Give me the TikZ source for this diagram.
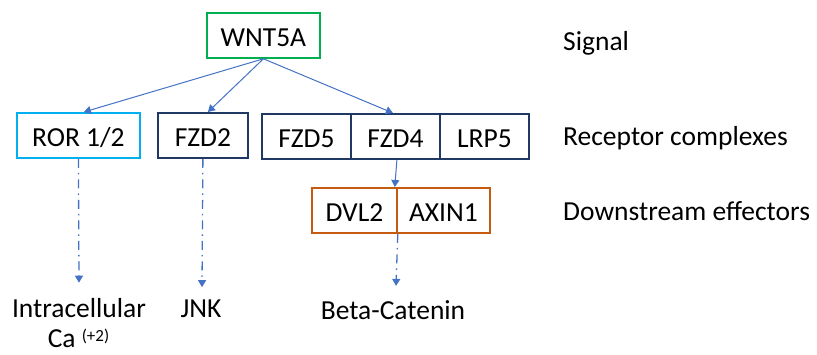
\documentclass[tikz,border=0pt]{standalone}
\usepackage{fontspec}
\setmainfont{Carlito}
\usetikzlibrary{arrows.meta,calc}
\definecolor{sigGreen}{RGB}{0,176,80}
\definecolor{rorBlue}{RGB}{0,176,240}
\definecolor{navy}{RGB}{31,56,100}
\definecolor{effOrange}{RGB}{197,90,17}
\definecolor{linkBlue}{RGB}{68,114,196}
\tikzset{
  txt/.style={font=\fontsize{27.5}{32}\selectfont, inner sep=0pt},
  cell/.style={txt, draw, line width=1.8pt, minimum height=45pt,
    text height=22pt, text depth=0pt, anchor=north west},
  link/.style={draw=linkBlue, line width=1pt,
    -{Triangle[width=8pt,length=7pt]}},
  pathway/.style={link, line width=1.3pt,
    dash pattern=on 9pt off 5pt on 1.5pt off 5pt},
}
\begin{document}
\begin{tikzpicture}[x=1pt,y=-1pt]
  \useasboundingbox (0,0) rectangle (817,354);

  % signal
  \node[cell, draw=sigGreen, minimum width=113pt] (wnt) at (206,12) {WNT5A};

  % receptor complexes
  \node[cell, draw=rorBlue, minimum width=123pt] (ror) at (16,112) {ROR 1/2};
  \node[cell, draw=navy, minimum width=90pt] (fzd2) at (157,112) {FZD2};
  \node[cell, draw=navy, minimum width=89pt] (fzd5) at (261,113) {FZD5};
  \node[cell, draw=navy, minimum width=89pt] (fzd4) at (350,113) {FZD4};
  \node[cell, draw=navy, minimum width=89pt] (lrp5) at (439,113) {LRP5};

  % downstream effectors
  \node[cell, draw=effOrange, minimum width=85pt] (dvl2) at (311,187) {DVL2};
  \node[cell, draw=effOrange, minimum width=93pt] (axin1) at (396,187) {AXIN1};

  % outcomes
  \node[txt, anchor=base] (calc) at (79,317) {Intracellular};
  \node[txt, anchor=base] (ca) at (78.5,347)
    {Ca \raisebox{6pt}{\fontsize{17}{20}\selectfont(+2)}};
  \node[txt, anchor=base] (jnk) at (201,317) {JNK};
  \node[txt, anchor=base] (bcat) at (393,319) {Beta-Catenin};

  % level captions
  \node[txt, anchor=base west] (lsig) at (563,50) {Signal};
  \node[txt, anchor=base west] (lrec) at (563,145) {Receptor complexes};
  \node[txt, anchor=base west] (leff) at (563,220) {Downstream effectors};

  % signal to receptors
  \draw[link] (wnt.south) -- ([xshift=5.5pt]ror.north);
  \draw[link] (wnt.south) -- ([xshift=5pt]fzd2.north);
  \draw[link] (wnt.south) -- ([xshift=-2.5pt]fzd4.north);
  \draw[link] ([xshift=1.5pt]fzd4.south) -- ([xshift=-3pt]dvl2.north east);

  % receptors to outcomes
  \draw[pathway] (ror.south) -- ([yshift=15pt]calc.north);
  \draw[pathway] (fzd2.south) -- ([xshift=1pt,yshift=12pt]jnk.north);
  \draw[pathway] (dvl2.south east) -- ([xshift=3pt,yshift=14pt]bcat.north);
\end{tikzpicture}
\end{document}
